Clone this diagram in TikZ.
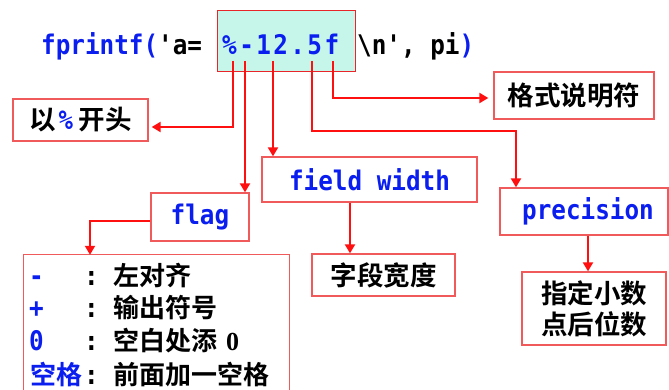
\documentclass[tikz,border=0pt]{standalone}
\usepackage{fontspec}
\usetikzlibrary{arrows.meta}
\newfontfamily\cjk{Noto Sans CJK SC}[BoldFont={Noto Sans CJK SC Bold}]
\newfontfamily\mono{DejaVu Sans Mono}[FakeStretch=0.9]
\newfontfamily\monowide{DejaVu Sans Mono}[FakeStretch=0.9,LetterSpace=9]
\newfontfamily\serifb{Liberation Serif}
\definecolor{boxred}{HTML}{F05A5A}
\definecolor{linered}{HTML}{FF1010}
\definecolor{hlred}{HTML}{E8262A}
\definecolor{hlfill}{HTML}{C6F6EA}
\definecolor{cblue}{HTML}{0A1EF0}
\tikzset{
  box/.style={draw=boxred, line width=1.3pt, inner sep=0pt, align=center},
  code/.style={inner sep=0pt, font=\mono\bfseries\fontsize{27}{30}\selectfont},
  codelbl/.style={box, text=cblue, font=\mono\bfseries\fontsize{27}{30}\selectfont},
  cjklbl/.style={box, font=\cjk\bfseries\fontsize{26.5}{31}\selectfont},
  rowtxt/.style={inner sep=0pt, anchor=base west},
  conn/.style={draw=linered, line width=2pt, -{Triangle[length=9pt,width=10pt]}}
}
\begin{document}
\begin{tikzpicture}[x=1pt,y=-1pt]
\useasboundingbox (0,0) rectangle (669,390);

% code line
\node[draw=hlred, fill=hlfill, line width=1.8pt, minimum width=138pt, minimum height=61pt, inner sep=0pt] (hl) at (286.5,41) {};
\node[code, anchor=base west] (c1) at (41,55) {\textcolor{cblue}{fprintf(}'a=};
\node[inner sep=0pt, anchor=base west, text=cblue, font=\monowide\bfseries\fontsize{27}{30}\selectfont] (c2) at (222,55) {\%-12.5f};
\node[code, anchor=base west] (c3) at (357,55) {\textbackslash n', pi\textcolor{cblue}{)}};

% boxes
\node[cjklbl, minimum width=135pt, minimum height=42pt] (b1) at (80.5,120)
  {以\hspace{3pt}{\mono\bfseries\color{cblue}\%}\hspace{6pt}开头};
\node[cjklbl, minimum width=160pt, minimum height=47pt] (b2) at (574,95.5) {格式说明符};
\node[codelbl, minimum width=215pt, minimum height=45pt] (fw) at (369.5,179.5) {field width};
\node[codelbl, minimum width=98pt, minimum height=48pt] (flag) at (200,217) {flag};
\node[codelbl, minimum width=168pt, minimum height=47pt] (prec) at (584,211.5) {\hspace{8pt}precision};
\node[cjklbl, minimum width=143pt, minimum height=42pt] (fwd) at (383.5,275) {字段宽度};
\node[cjklbl, minimum width=144pt, minimum height=73pt] (pd) at (594,308.5) {指定小数\\点后位数};

% big box (open at the bottom of the picture)
\node[inner sep=0pt, minimum width=265pt, minimum height=135pt] (big) at (156.5,322.5) {};
\draw[draw=boxred, line width=1.3pt] (big.south west) -- (big.north west) -- (big.north east) -- (big.south east);

\node[rowtxt, text=cblue, font=\mono\bfseries\fontsize{27}{30}\selectfont] (r1a) at (29,285) {-};
\node[rowtxt, font=\mono\bfseries\fontsize{27}{30}\selectfont] (r1b) at (84,285) {:};
\node[rowtxt, font=\cjk\bfseries\fontsize{26}{30}\selectfont] (r1c) at (113,285) {左对齐};
\node[rowtxt, text=cblue, font=\mono\bfseries\fontsize{27}{30}\selectfont] (r2a) at (29,317) {+};
\node[rowtxt, font=\mono\bfseries\fontsize{27}{30}\selectfont] (r2b) at (84,317) {:};
\node[rowtxt, font=\cjk\bfseries\fontsize{26}{30}\selectfont] (r2c) at (113,317) {输出符号};
\node[rowtxt, text=cblue, font=\mono\bfseries\fontsize{27}{30}\selectfont] (r3a) at (29,350) {0};
\node[rowtxt, font=\mono\bfseries\fontsize{27}{30}\selectfont] (r3b) at (84,350) {:};
\node[rowtxt, font=\cjk\bfseries\fontsize{26}{30}\selectfont] (r3c) at (113,350) {空白处添\hspace{9pt}{\serifb\bfseries 0}};
\node[rowtxt, text=cblue, font=\cjk\bfseries\fontsize{26}{30}\selectfont] (r4a) at (30,384) {空格};
\node[rowtxt, font=\mono\bfseries\fontsize{27}{30}\selectfont] (r4b) at (84,384) {:};
\node[rowtxt, font=\cjk\bfseries\fontsize{26}{30}\selectfont] (r4c) at (113,384) {前面加一空格};

% connector anchor points
\coordinate (s1) at (233,61);
\coordinate (s2) at (245,61);
\coordinate (s3) at (273,61);
\coordinate (s4) at (312,61);
\coordinate (s5) at (333,61);
\coordinate (m1) at (233,127);
\coordinate (m4) at (312,131);
\coordinate (m4b) at (516,131);
\coordinate (m5) at (333,98);
\coordinate (g1) at (90,221);
\coordinate (w1) at (350,0);
\coordinate (q1) at (588,0);

\draw[conn, shorten >=3pt] (s1) -- (m1) -- (m1 -| b1.east);
\draw[conn] (s2) -- (s2 |- flag.north);
\draw[conn] (s3) -- (s3 |- fw.north);
\draw[conn] (s4) -- (m4) -- (m4b) -- (m4b |- prec.north);
\draw[conn, shorten >=5pt] (s5) -- (m5) -- (m5 -| b2.west);
\draw[conn] (flag.west |- g1) -- (g1) -- (g1 |- big.north);
\draw[conn] (fw.south -| w1) -- (fwd.north -| w1);
\draw[conn] (prec.south -| q1) -- (pd.north -| q1);
\end{tikzpicture}
\end{document}
